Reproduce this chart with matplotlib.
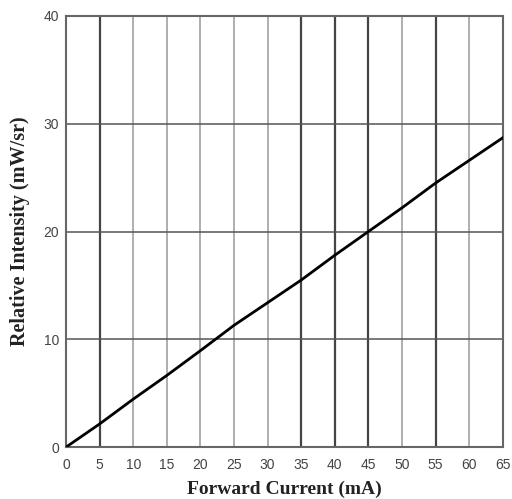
import matplotlib
matplotlib.use("Agg")
import matplotlib.pyplot as plt

current = [0, 5, 10, 15, 20, 25, 30, 35, 40, 45, 50, 55, 60, 65]
intensity = [0, 2.15, 4.45, 6.65, 8.95, 11.3, 13.4, 15.5, 17.8, 20.0, 22.2, 24.5, 26.6, 28.7]
xticks = list(range(0, 66, 5))
yticks = [0, 10, 20, 30, 40]
dark_x = [5, 35, 40, 45, 55]

fig = plt.figure(figsize=(5.12, 4.99), dpi=100)
ax = fig.add_axes([0.129, 0.104, 0.853, 0.864])
ax.set_xlim(0, 65)
ax.set_ylim(0, 40)

for x in xticks[1:-1]:
    if x in dark_x:
        ax.axvline(x, color="#444444", lw=1.6, zorder=1)
    else:
        ax.axvline(x, color="#a8a8a8", lw=1.3, zorder=1)
for y in yticks[1:-1]:
    ax.axhline(y, color="#555555", lw=1.1, zorder=1)

ax.plot(current, intensity, color="black", lw=2.0, zorder=3)

for s in ax.spines.values():
    s.set_color("#666666")
    s.set_linewidth(1.5)

ax.set_xticks(xticks)
ax.set_yticks(yticks)
ax.tick_params(axis="x", length=0, labelsize=10, pad=8)
ax.tick_params(axis="y", length=0, labelsize=10, pad=5)
for lab in ax.get_xticklabels() + ax.get_yticklabels():
    lab.set_family("Liberation Sans")
    lab.set_color("#444444")

ax.set_xlabel("Forward Current (mA)", family="Liberation Serif", fontweight="bold",
              fontsize=14, color="#222222", labelpad=6)
ax.set_ylabel("Relative Intensity (mW/sr)", family="Liberation Serif", fontweight="bold",
              fontsize=14.5, color="#222222", labelpad=10)

fig.savefig("out.png", dpi=100)
